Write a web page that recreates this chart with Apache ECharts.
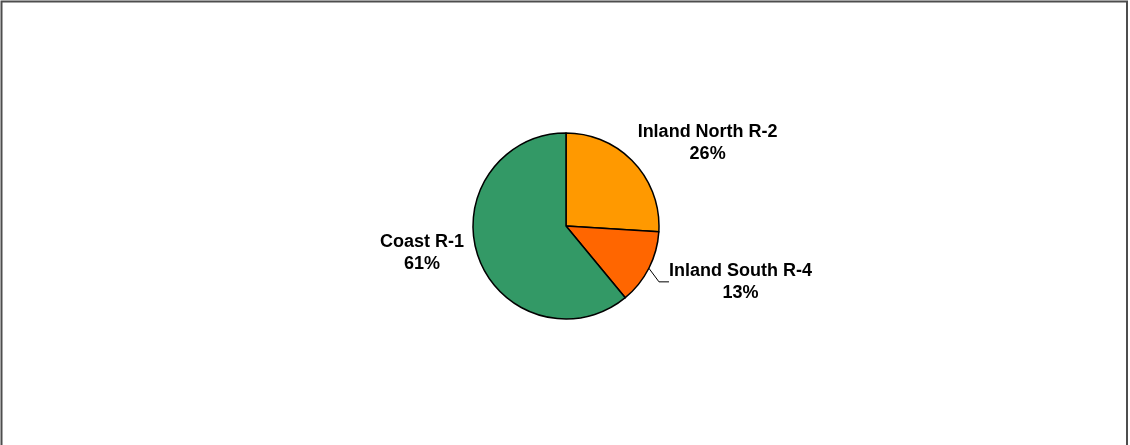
<!DOCTYPE html>
<html><head><meta charset="utf-8">
<script src="https://cdn.jsdelivr.net/npm/echarts@6/dist/echarts.min.js"></script>
<style>html,body{margin:0;padding:0;background:#fff}#c{width:1130px;height:445px}</style>
</head><body><div id="c"></div>
<script>
const categories = ['Inland North R-2', 'Inland South R-4', 'Coast R-1'];
const values = [26, 13, 61];
const colors = ['#FF9900', '#FF6600', '#339966'];
const labelShift = [[-17, -14], [-2, 10], [8, -7]];

const chart = echarts.init(document.getElementById('c'), null, {renderer: 'canvas'});
chart.setOption({
  animation: false,
  backgroundColor: '#ffffff',
  graphic: [
    {type: 'polyline', shape: {points: [[1.5, 445], [1.5, 1.5], [1127, 1.5], [1127, 445]]},
     style: {stroke: '#4d4d4d', lineWidth: 2, fill: null}, silent: true}
  ],
  series: [{
    type: 'pie',
    center: [566, 226],
    radius: 93,
    startAngle: 90,
    clockwise: true,
    data: categories.map((c, i) => ({name: c, value: values[i], itemStyle: {color: colors[i]},
      labelLine: {show: i === 1}})),
    itemStyle: {borderColor: '#000', borderWidth: 1.5},
    label: {
      show: true, position: 'outside',
      formatter: '{b}\n{d}%',
      fontFamily: 'Liberation Sans, Arial, sans-serif',
      fontWeight: 'bold', fontSize: 18, lineHeight: 22, color: '#000'
    },
    labelLayout: function (p) {
      const r = p.labelRect, s = labelShift[p.dataIndex];
      return {x: r.x + r.width / 2 + s[0], y: r.y + r.height / 2 + s[1], align: 'center', verticalAlign: 'middle'};
    },
    labelLine: {length: 8, length2: 10, lineStyle: {color: '#000', width: 1}},
    emphasis: {disabled: true}
  }]
});
</script></body></html>
